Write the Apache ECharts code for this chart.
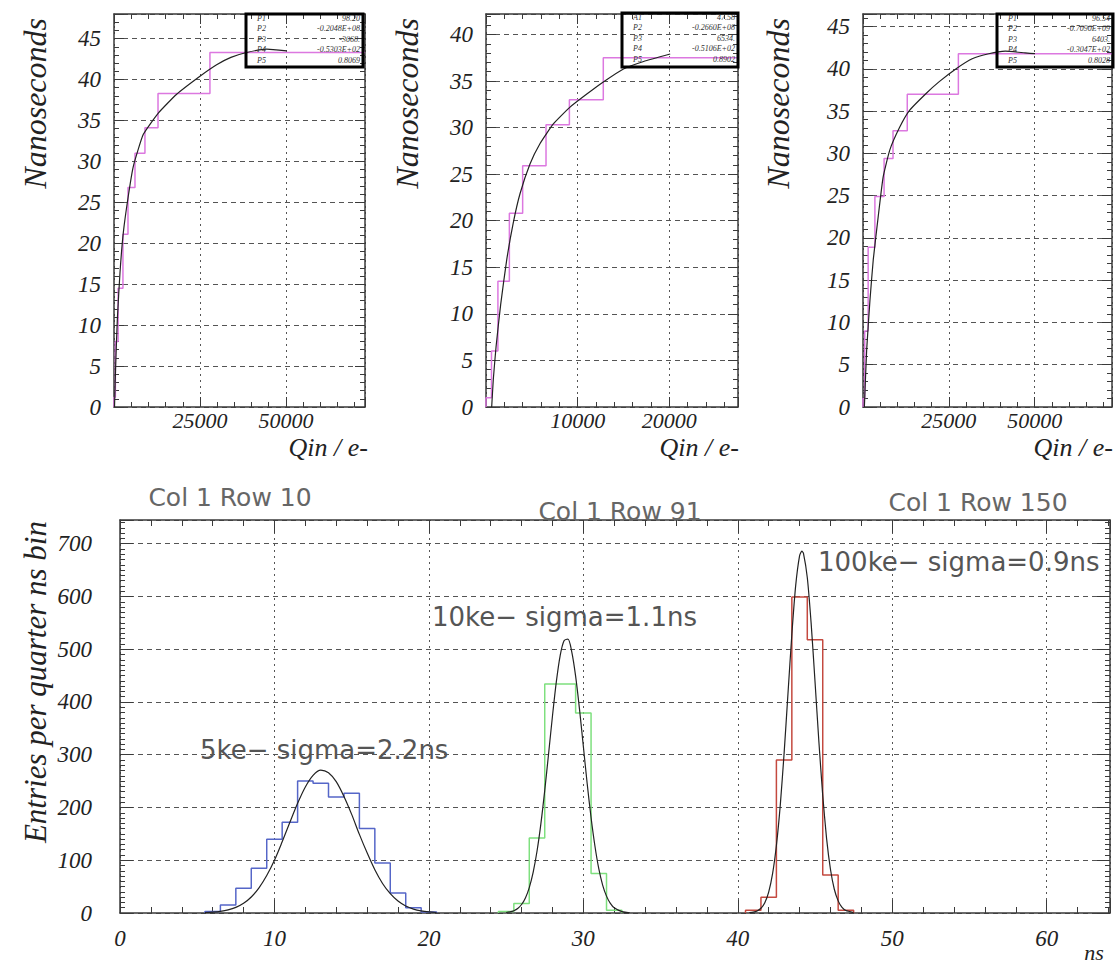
<!DOCTYPE html>
<html><head><meta charset="utf-8">
<script src="https://cdn.jsdelivr.net/npm/echarts@6/dist/echarts.min.js"></script>
<style>html,body{margin:0;padding:0;background:#fff}#c{width:1115px;height:966px}</style>
</head><body><div id="c"></div>
<script>
// ---------- DATA ----------
// Panel 1 (Col 1 Row 10): profile histogram (variable bins) and fit curve
const p1Edges  = [0, 400, 1200, 2600, 4070, 6100, 9000, 12800, 27900, 73000];
const p1Values = [1.2, 8, 14.5, 21.1, 26.8, 31.0, 34.1, 38.3, 43.3];
const p1FitQ = [150, 480, 970, 1740, 2710, 4170, 5620, 8530, 12890, 18220, 25000, 29850, 34000, 38570, 44390, 50200];
const p1FitT = [0, 5.0, 10.7, 16.4, 21.3, 25.8, 29.4, 33.3, 35.9, 38.2, 40.4, 41.8, 42.7, 43.3, 43.7, 43.5];
const p1Stats = [["P1","98.20"],["P2","-0.2048E+08"],["P3","-3068."],["P4","-0.5303E+02"],["P5","0.8069"]];

// Panel 2 (Col 1 Row 91)
const p2Edges  = [0, 600, 1300, 2550, 4000, 6550, 9100, 12800, 27500];
const p2Values = [1.0, 6.0, 13.5, 20.8, 25.9, 30.3, 33.0, 37.5];
const p2FitQ = [620, 800, 1100, 1600, 2260, 2980, 3710, 4800, 5900, 7350, 9170, 11000, 12800, 15000, 17200, 20100];
const p2FitT = [0, 3.0, 6.5, 11.0, 15.8, 19.8, 22.9, 26.1, 28.3, 30.4, 32.2, 33.6, 34.9, 36.3, 37.1, 37.9];
const p2Stats = [["A1","47.58"],["P2","-0.2660E+08"],["P3","6534."],["P4","-0.5106E+02"],["P5","0.8902"]];

// Panel 3 (Col 1 Row 150)
const p3Edges  = [0, 500, 1500, 3460, 6140, 8740, 12890, 27770, 72500];
const p3Values = [1.0, 9.0, 18.9, 24.9, 29.4, 32.7, 37.0, 41.8];
const p3FitQ = [400, 1060, 2020, 2980, 4420, 5860, 7790, 10670, 13550, 18370, 22200, 27020, 31800, 36620, 41430, 47200, 50080];
const p3FitT = [0, 6.7, 12.6, 17.4, 22.5, 27.2, 30.4, 33.1, 35.1, 37.1, 38.5, 40.0, 41.2, 41.8, 42.1, 41.9, 41.8];
const p3Stats = [["P1","96.54"],["P2","-0.7090E+09"],["P3","6403."],["P4","-0.3047E+02"],["P5","0.8028"]];

// Bottom panel: timing histograms (bin centres in ns, entries) and fitted gaussians
const blueCenters = [6, 7, 8, 9, 10, 11, 12, 13, 14, 15, 16, 17, 18, 19, 20];
const blueCounts  = [3, 15, 47, 85, 140, 172, 250, 246, 220, 227, 160, 95, 38, 10, 2];
const blueFitX = [5.5, 6, 6.5, 7, 7.5, 8, 8.5, 9, 9.5, 10, 10.5, 11, 11.5, 12, 12.5, 13, 13.5, 14, 14.5, 15, 15.5, 16, 16.5, 17, 17.5, 18, 18.5, 19, 19.5, 20, 20.5];
const blueFitY = [0.7, 1.5, 3.0, 5.8, 10.6, 18.4, 30.4, 47.7, 71, 100, 135, 172, 208, 239, 261, 271, 266, 249, 221, 187, 149, 114, 82, 56, 36.6, 22.7, 13.3, 7.4, 3.9, 2.0, 0.9];

const greenCenters = [25, 26, 27, 28, 29, 30, 31, 32];
const greenCounts  = [3, 18, 142, 434, 434, 379, 75, 5];
const greenFitX = [25, 25.25, 25.5, 25.75, 26, 26.25, 26.5, 26.75, 27, 27.25, 27.5, 27.75, 28, 28.25, 28.5, 28.75, 29, 29.25, 29.5, 29.75, 30, 30.25, 30.5, 30.75, 31, 31.25, 31.5, 31.75, 32, 32.5, 33];
const greenFitY = [1.0, 2.1, 4.4, 8.6, 16.1, 28.6, 48.2, 77, 117, 169, 232, 302, 373, 438, 488, 516, 519, 495, 449, 387, 316, 245, 181, 127, 84, 53, 32, 18.2, 9.8, 2.5, 0.5];

const redCenters = [41, 42, 43, 44, 45, 46, 47];
const redCounts  = [5, 30, 290, 599, 518, 72, 5];
const redFitX = [40.75, 41, 41.25, 41.5, 41.75, 42, 42.25, 42.5, 42.75, 43, 43.25, 43.5, 43.75, 44, 44.15, 44.25, 44.5, 44.75, 45, 45.25, 45.5, 45.75, 46, 46.25, 46.5, 46.75, 47, 47.5];
const redFitY = [0.6, 1.5, 3.8, 9, 19.6, 39.6, 74, 128, 204, 303, 416, 528, 621, 677, 686, 682, 636, 549, 439, 325, 223, 141, 83, 45, 23, 10.6, 4.6, 0.7];

// Texts
const panelTitles = ["Col 1 Row 10", "Col 1 Row 91", "Col 1 Row 150"];
const annotations = ["5ke\u2212 sigma=2.2ns", "10ke\u2212 sigma=1.1ns", "100ke\u2212 sigma=0.9ns"];
const topYTitle = "Nanoseconds";
const topXTitle = "Qin / e-";
const botYTitle = "Entries per quarter ns bin";
const botXTitle = "ns";

// ---------- LAYOUT / STYLE ----------
const SERIF = '"Liberation Serif", "DejaVu Serif", serif';
const SANS = '"DejaVu Sans", sans-serif';
const FRAME = '#3a3a3a';
const PINK = '#dc78e0';
const BLUE = '#5566c8';
const GREEN = '#7ee07e';
const RED = '#c4493f';
const FIT = '#222';

const GRIDS = [
  {left:114, top:14, width:251, height:393},
  {left:486, top:14, width:252, height:393},
  {left:863, top:14, width:251, height:393},
  {left:120, top:520, width:990, height:393}
];
const XR = [
  {max:73000, interval:25000, minor:5, showZero:false},
  {max:27500, interval:10000, minor:5, showZero:false},
  {max:72500, interval:25000, minor:5, showZero:false},
  {max:64.1, interval:10, minor:5, showZero:true}
];
const YR = [
  {max:48, interval:5, minor:5},
  {max:42.2, interval:5, minor:5},
  {max:46.5, interval:5, minor:5},
  {max:745, interval:100, minor:10}
];

function isMult(v, step){ const r = v/step; return Math.abs(r-Math.round(r)) < 1e-6; }

const xAxes = [], yAxes = [];
GRIDS.forEach((g, gi) => {
  const xr = XR[gi], yr = YR[gi];
  const big = gi === 3;
  const lineS = {show:true, onZero:false, lineStyle:{color:FRAME, width:1.5}};
  const tickS = {show:true, inside:true, length: big ? 13 : 10, lineStyle:{color:FRAME, width:1}};
  const xminor = {show:true, splitNumber:xr.minor, length: big ? 6 : 5, lineStyle:{color:FRAME, width:1}};
  const yminor = {show:true, splitNumber:yr.minor, length:5, lineStyle:{color:FRAME, width:1}};
  xAxes.push({
    gridIndex:gi, type:'value', min:0, max:xr.max, interval:xr.interval, position:'bottom',
    axisLine:lineS, axisTick:tickS, minorTick:xminor,
    axisLabel:{show:true, fontFamily:SERIF, fontStyle:'italic', fontSize: big ? 23 : 22, color:'#222', margin: big ? 14 : 2,
      formatter: v => (isMult(v, xr.interval) && v < xr.max - 1e-9 && (xr.showZero || v > 0)) ? String(Math.round(v)) : ''},
    splitLine:{show:true, lineStyle:{color:'#555', type:[2,4], width:1}}
  });
  xAxes.push({
    gridIndex:gi, type:'value', min:0, max:xr.max, interval:xr.interval, position:'top',
    axisLine:lineS, axisTick:tickS, minorTick:xminor, axisLabel:{show:false}, splitLine:{show:false}
  });
  yAxes.push({
    gridIndex:gi, type:'value', min:0, max:yr.max, interval:yr.interval, position:'left',
    axisLine:lineS, axisTick:tickS, minorTick:yminor,
    axisLabel:{show:true, fontFamily:SERIF, fontStyle:'italic', fontSize:23, color:'#222', margin: big ? 28 : 13,
      formatter: v => (isMult(v, yr.interval) && v < yr.max - 1e-9) ? String(Math.round(v)) : ''},
    splitLine:{show:true, lineStyle:{color:'#555', type:[5,4], width:1}}
  });
  yAxes.push({
    gridIndex:gi, type:'value', min:0, max:yr.max, interval:yr.interval, position:'right',
    axisLine:lineS, axisTick:tickS, minorTick:yminor, axisLabel:{show:false}, splitLine:{show:false}
  });
});

function stepFromEdges(edges, vals){
  const pts = [[edges[0], 0]];
  vals.forEach((v, i) => pts.push([edges[i], v]));
  pts.push([edges[edges.length-1], vals[vals.length-1]]);
  return pts;
}
function stepFromCenters(centers, vals){
  const edges = centers.map(c => c - 0.5);
  edges.push(centers[centers.length-1] + 0.5);
  const pts = stepFromEdges(edges, vals);
  pts.push([edges[edges.length-1], 0]);
  return pts;
}
function zip(a, b){ return a.map((v, i) => [v, b[i]]); }

function histSeries(gi, data, color){
  return {type:'line', xAxisIndex:2*gi, yAxisIndex:2*gi, step:'end', data, symbol:'none', showSymbol:false,
    lineStyle:{color, width:1.5}, z:2, silent:true};
}
function fitSeries(gi, data, smooth){
  return {type:'line', xAxisIndex:2*gi, yAxisIndex:2*gi, smooth:smooth, data, symbol:'none', showSymbol:false,
    lineStyle:{color:FIT, width:1.2}, z:3, silent:true};
}

const series = [
  histSeries(0, stepFromEdges(p1Edges, p1Values), PINK), fitSeries(0, zip(p1FitQ, p1FitT), 0.15),
  histSeries(1, stepFromEdges(p2Edges, p2Values), PINK), fitSeries(1, zip(p2FitQ, p2FitT), 0.15),
  histSeries(2, stepFromEdges(p3Edges, p3Values), PINK), fitSeries(2, zip(p3FitQ, p3FitT), 0.15),
  histSeries(3, stepFromCenters(blueCenters, blueCounts), BLUE), fitSeries(3, zip(blueFitX, blueFitY), 0.3),
  histSeries(3, stepFromCenters(greenCenters, greenCounts), GREEN), fitSeries(3, zip(greenFitX, greenFitY), 0.3),
  histSeries(3, stepFromCenters(redCenters, redCounts), RED), fitSeries(3, zip(redFitX, redFitY), 0.2)
];

function text(x, y, str, o){
  return {type:'text', x, y, rotation:o.rotation || 0, silent:true, z:10,
    style:{text:str, fill:o.fill || '#222', fontFamily:o.family || SERIF, fontStyle:o.italic ? 'italic' : 'normal',
      fontSize:o.size, align:o.align || 'left', textAlign:o.align || 'left',
      verticalAlign:'middle', textVerticalAlign:'middle'}};
}
function statBox(left, top, w, h, rows){
  const els = [{type:'rect', shape:{x:left, y:top, width:w, height:h}, silent:true, z:9,
    style:{fill:'none', stroke:'#000', lineWidth:3}}];
  rows.forEach((r, i) => {
    const y = top + 4 + i * 10.5;
    els.push(text(left + 11, y, r[0], {size:8, italic:true, fill:'#333'}));
    els.push(text(left + w - 3, y, r[1], {size:8, italic:true, align:'right', fill:'#333'}));
  });
  return els;
}

const graphic = [].concat(
  statBox(246, 14, 117, 53, p1Stats),
  statBox(622, 13, 116, 54, p2Stats),
  statBox(997, 14, 116, 53, p3Stats),
  [
    text(35, 18, topYTitle, {size:32, italic:true, align:'right', rotation:Math.PI/2}),
    text(407, 18, topYTitle, {size:32, italic:true, align:'right', rotation:Math.PI/2}),
    text(778, 18, topYTitle, {size:32, italic:true, align:'right', rotation:Math.PI/2}),
    text(368, 447, topXTitle, {size:26, italic:true, align:'right'}),
    text(739, 447, topXTitle, {size:26, italic:true, align:'right'}),
    text(1113, 447, topXTitle, {size:26, italic:true, align:'right'}),
    text(35, 521, botYTitle, {size:31, italic:true, align:'right', rotation:Math.PI/2}),
    text(1094, 952, botXTitle, {size:22, italic:true, align:'center'}),
    text(230, 497, panelTitles[0], {size:25, family:SANS, fill:'#666', align:'center'}),
    text(620, 511, panelTitles[1], {size:25, family:SANS, fill:'#666', align:'center'}),
    text(978, 502, panelTitles[2], {size:25, family:SANS, fill:'#666', align:'center'}),
    text(200, 750, annotations[0], {size:26, family:SANS, fill:'#555'}),
    text(432, 617, annotations[1], {size:26, family:SANS, fill:'#555'}),
    text(818, 562, annotations[2], {size:26, family:SANS, fill:'#555'})
  ]
);

const chart = echarts.init(document.getElementById('c'), null, {renderer:'svg'});
chart.setOption({
  animation:false,
  backgroundColor:'#fff',
  grid: GRIDS.map(g => Object.assign({containLabel:false}, g)),
  xAxis: xAxes,
  yAxis: yAxes,
  series,
  graphic
});
</script>
</body></html>
